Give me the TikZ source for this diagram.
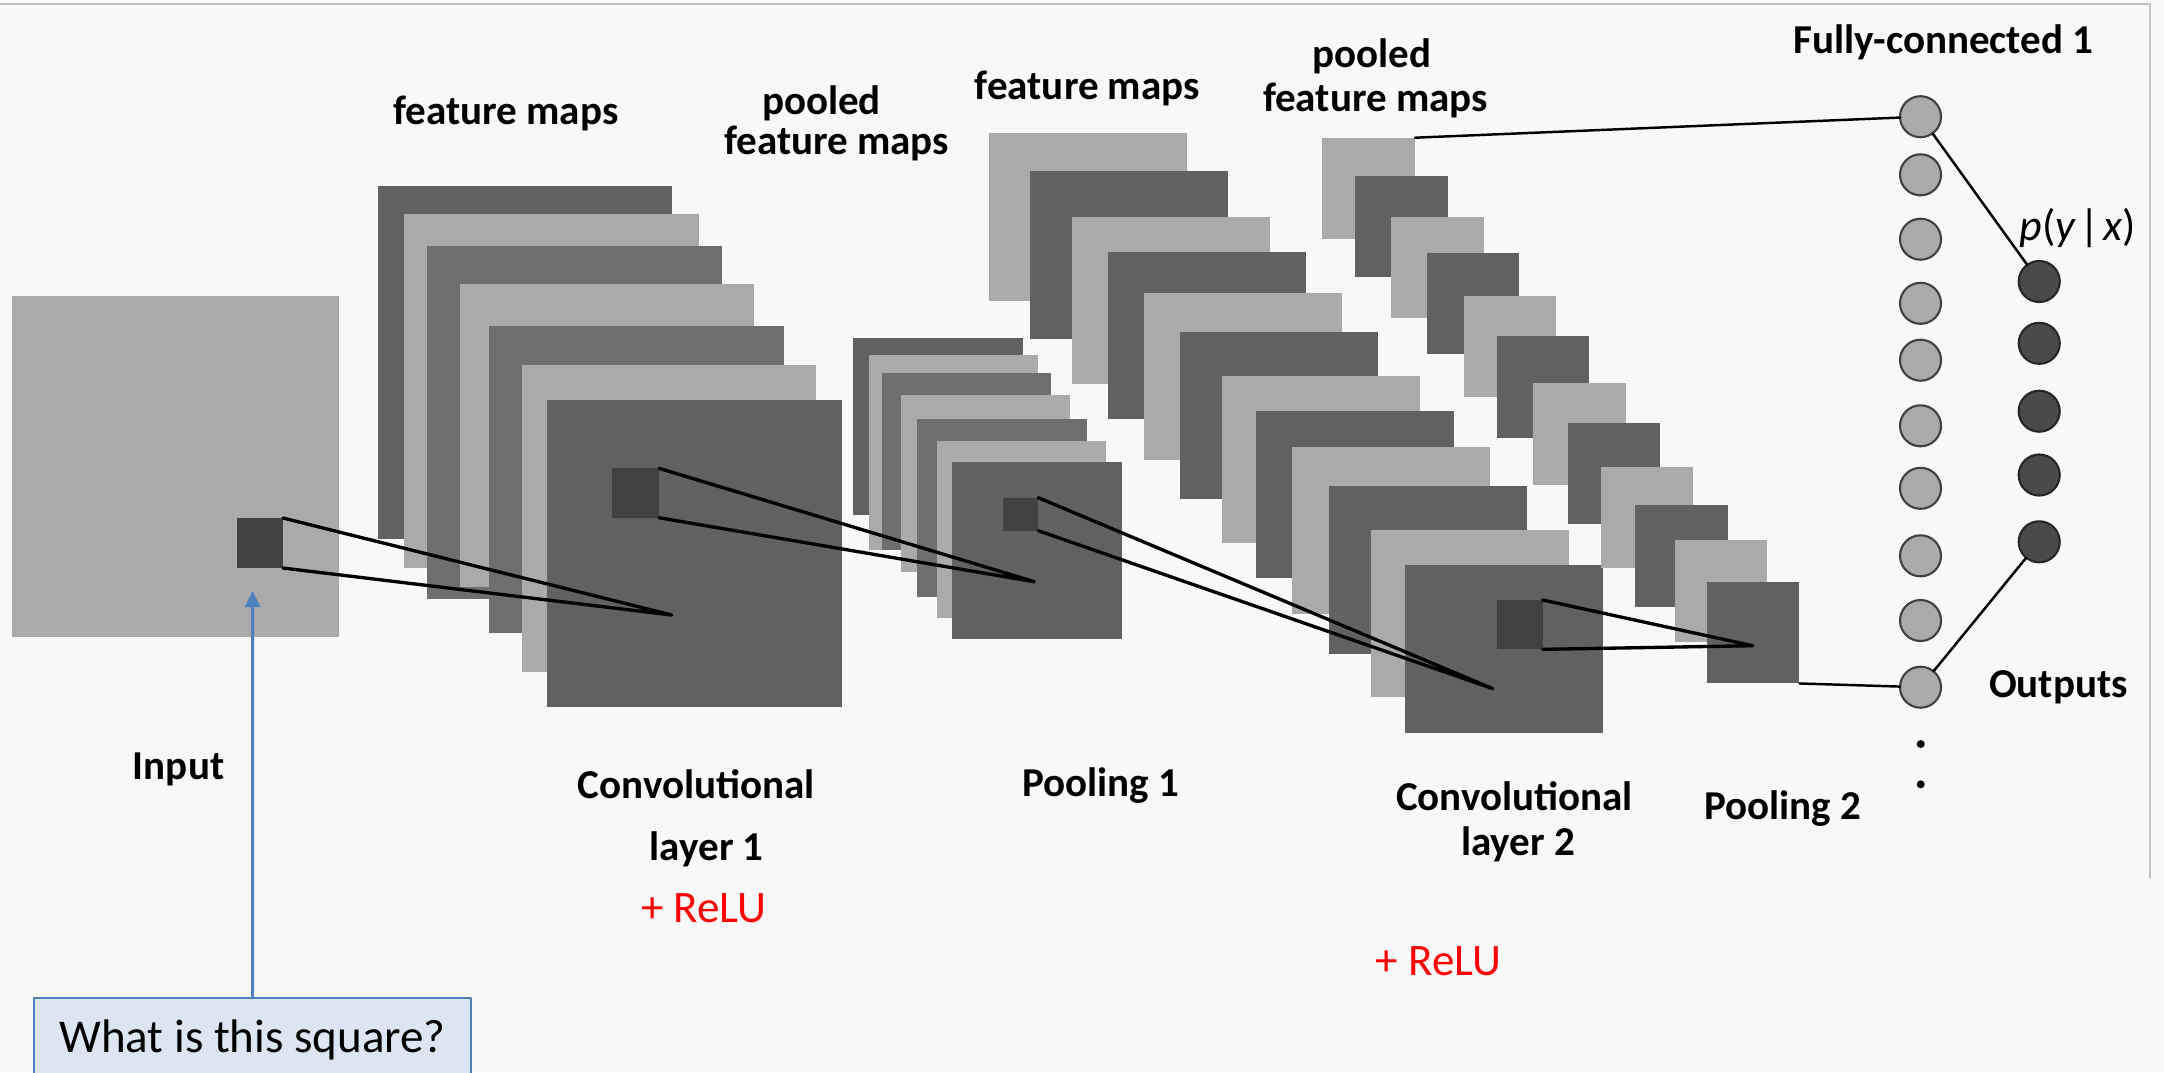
\documentclass[tikz,border=0pt]{standalone}
\usepackage{fontspec}
\setmainfont{Carlito}
\usetikzlibrary{arrows.meta}
\definecolor{bgcol}{RGB}{248,248,248}
\definecolor{framecol}{RGB}{195,195,195}
\definecolor{lightmap}{RGB}{170,170,170}
\definecolor{darkA}{RGB}{97,97,97}
\definecolor{darkB}{RGB}{110,110,110}
\definecolor{patchgray}{RGB}{65,65,65}
\definecolor{outgray}{RGB}{74,74,74}
\definecolor{qblue}{RGB}{79,129,189}
\definecolor{qfill}{RGB}{220,230,242}
\begin{document}
\begin{tikzpicture}[x=0.01cm,y=-0.01cm,line join=round,line cap=round,
	fmap/.style={anchor=north west,inner sep=0,outer sep=0,draw=none},
	patch/.style={fmap,fill=patchgray},
	fcunit/.style={circle,draw=black!75,line width=0.6pt,fill=lightmap,minimum size=0.41cm,inner sep=0,outer sep=0},
	outunit/.style={fcunit,draw=black!85,fill=outgray},
	lbl/.style={anchor=base,inner sep=0,font=\bfseries\fontsize{11.67}{14}\selectfont},
	relu/.style={anchor=base,inner sep=0,text=red,font=\fontsize{12.8}{15}\selectfont},
	rf/.style={line width=0.95pt},
	link/.style={line width=0.7pt}]
	\useasboundingbox (0,0) rectangle (2164,1072);
	\fill[bgcol] (0,0) rectangle (2164,1072);
	\draw[framecol,line width=0.5pt] (0,4)--(2150,4)--(2150,878);
	\node[fmap,fill=lightmap,minimum width=3.27cm,minimum height=3.41cm] (inmap) at (12,296) {};
	\foreach \x/\y/\w/\h/\c [count=\i] in {377.7/185.7/294.6/353.6/darkA,404.3/214.3/294.4/353.4/lightmap,427.3/246/294.4/353.3/darkB,460/284/294.3/302.7/lightmap,489/325.7/294.7/307/darkB,522/364.7/294.3/307/lightmap,547.3/400/294.7/307/darkA}{
		\node[fmap,fill=\c,minimum width=\w*0.01cm,minimum height=\h*0.01cm] (c1-\i) at (\x,\y) {};
	}
	\foreach \x/\y/\w/\h/\c [count=\i] in {853.3/338.3/169.4/176.7/darkA,869/355/169/195/lightmap,881.7/372.7/169/177.3/darkB,901/395.3/169/177/lightmap,917.3/419.3/169.4/177.4/darkB,936.7/441.3/169/177/lightmap,952/461.7/169.7/177.3/darkA}{
		\node[fmap,fill=\c,minimum width=\w*0.01cm,minimum height=\h*0.01cm] (p1-\i) at (\x,\y) {};
	}
	\foreach \x/\y/\c [count=\i] in {989.3/133.3/lightmap,1030.3/171.3/darkA,1072.3/216.7/lightmap,1107.7/251.7/darkA,1143.7/292.7/lightmap,1180/331.7/darkA,1222/375.7/lightmap,1256.3/410.7/darkA,1292.3/446.7/lightmap,1329/486/darkA,1370.7/529.6/lightmap,1405.3/565/darkA}{
		\node[fmap,fill=\c,minimum width=1.98cm,minimum height=1.675cm] (c2-\i) at (\x,\y) {};
	}
	\foreach \x/\y/\c [count=\i] in {1322.3/137.7/lightmap,1355.3/175.5/darkA,1390.8/216.5/lightmap,1426.5/252.5/darkA,1463.7/295.7/lightmap,1496.7/336.4/darkA,1533.3/383.2/lightmap,1567.7/422.5/darkA,1600.7/467.1/lightmap,1635/505.4/darkA,1674.7/540.4/lightmap,1706.7/582.1/darkA}{
		\node[fmap,fill=\c,minimum width=0.927cm,minimum height=1.013cm] (p2-\i) at (\x,\y) {};
	}
	\node[patch,minimum width=0.46cm,minimum height=0.5cm] (patch0) at (237,518) {};
	\node[patch,minimum width=0.467cm,minimum height=0.494cm] (patch1) at (612.3,468.3) {};
	\node[patch,minimum width=0.35cm,minimum height=0.33cm] (patch2) at (1003.3,497.7) {};
	\node[patch,minimum width=0.46cm,minimum height=0.493cm] (patch3) at (1496.7,600) {};
	\coordinate (t1) at (671.7,615);
	\coordinate (t2) at (1034.3,581.7);
	\coordinate (t3) at (1492.7,688.6);
	\coordinate (t4) at (1752.7,645.7);
	\draw[rf] (patch0.north east)--(t1)--(patch0.south east);
	\draw[rf] (patch1.north east)--(t2)--(patch1.south east);
	\draw[rf] (patch2.north east)--(t3)--(patch2.south east);
	\draw[rf] (patch3.north east)--(t4)--(patch3.south east);
	\foreach \y [count=\i] in {116.7,174.8,239.2,303.3,360.2,425.8,488.3,555.8,620.5,687.2}{
		\node[fcunit] (fc\i) at (1920.5,\y) {};
	}
	\foreach \y [count=\i] in {281.5,343.3,411.2,475,541.8}{
		\node[outunit] (out\i) at (2039.2,\y) {};
	}
	\fill (1920.7,744) circle (0.04cm);
	\fill (1920.7,784.3) circle (0.04cm);
	\draw[link] (p2-1.north east)--(fc1);
	\draw[link] (p2-12.south east)--(fc10);
	\draw[link] (fc1)--(out1);
	\draw[link] (fc10)--(out5);
	\node[lbl] (fm1) at (506,124) {feature maps};
	\node[lbl] (pl1a) at (821.5,114) {pooled};
	\node[lbl] (pl1b) at (836.7,154) {feature maps};
	\node[lbl] (fm2) at (1087.4,99) {feature maps};
	\node[lbl] (pl2a) at (1371.5,67) {pooled};
	\node[lbl] (pl2b) at (1375.5,111.6) {feature maps};
	\node[lbl] (fctitle) at (1943.5,53) {Fully-connected 1};
	\node[anchor=base,inner sep=0,font=\fontsize{12.5}{15}\selectfont] (pyx) at (2078,240) {\textit{p}(\textit{y}\kern1pt|\kern1pt\textit{x})};
	\node[lbl] (outs) at (2058.3,697) {Outputs};
	\node[lbl] (inlbl) at (178.6,779) {Input};
	\node[lbl] (cv1a) at (696.4,798.5) {Convolutional};
	\node[lbl] (cv1b) at (706.7,860) {layer 1};
	\node[relu] (relu1) at (704,922) {+ ReLU};
	\node[lbl] (pool1) at (1100.5,796.7) {Pooling 1};
	\node[lbl] (cv2a) at (1514.5,810) {Convolutional};
	\node[lbl] (cv2b) at (1518,855) {layer 2};
	\node[lbl] (pool2) at (1782.5,819) {Pooling 2};
	\node[relu] (relu2) at (1438.7,975) {+ ReLU};
	\node[anchor=north,draw=qblue,line width=0.6pt,fill=qfill,minimum width=4.37cm,minimum height=0.84cm,inner sep=0,font=\fontsize{13.37}{16}\selectfont] (qbox) at (252.5,997) {What is this square?};
	\coordinate (qtip) at (252.6,591);
	\draw[qblue,line width=0.85pt,-{Triangle[width=4.3pt,length=4.6pt]}] (qbox.north)--(qtip);
\end{tikzpicture}
\end{document}
